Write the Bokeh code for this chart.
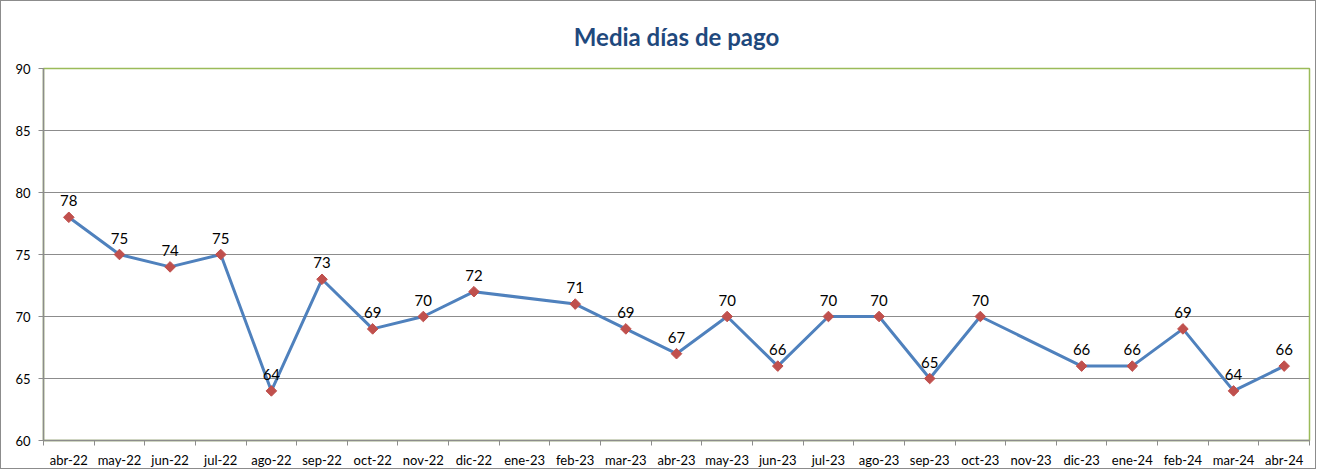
from math import pi
from bokeh.plotting import figure
from bokeh.models import ColumnDataSource, FixedTicker, LabelSet, Range1d
from bokeh.core.properties import value
from bokeh.embed import file_html
from bokeh.resources import INLINE

months = ["abr-22", "may-22", "jun-22", "jul-22", "ago-22", "sep-22", "oct-22", "nov-22",
          "dic-22", "ene-23", "feb-23", "mar-23", "abr-23", "may-23", "jun-23", "jul-23",
          "ago-23", "sep-23", "oct-23", "nov-23", "dic-23", "ene-24", "feb-24", "mar-24", "abr-24"]
dias = [78, 75, 74, 75, 64, 73, 69, 70, 72, None, 71, 69, 67, 70, 66, 70, 70, 65, 70, None,
        66, 66, 69, 64, 66]
y_ticks = [60, 65, 70, 75, 80, 85, 90]

xs = [i for i, v in enumerate(dias) if v is not None]
ys = [v for v in dias if v is not None]
src = ColumnDataSource(dict(x=xs, y=ys, lbl=[str(v) for v in ys]))

FONT = "Lato"

p = figure(width=1316, height=469, output_backend="svg", toolbar_location=None,
           x_range=Range1d(-0.5, len(months) - 0.5), y_range=Range1d(60, 90),
           min_border_left=42, min_border_right=8, min_border_top=10, min_border_bottom=4,
           styles={"border": "1px solid #8c8c8c"})

p.title.text = "Media días de pago"
p.title.align = "center"
p.title.offset = -9
p.title.text_font = FONT
p.title.text_font_size = "24px"
p.title.text_color = "#1F497D"
p.title.text_font_style = "bold"
p.title.standoff = 36

p.outline_line_color = "#9BBB59"
p.outline_line_width = 1.5

p.line("x", "y", source=src, line_color="#4F81BD", line_width=3)
p.scatter("x", "y", source=src, marker="square", angle=pi / 4, size=7.5,
          fill_color="#C0504D", line_color="#C0504D")
p.add_layout(LabelSet(x="x", y="y", text="lbl", source=src, text_align="center",
                      text_baseline="bottom", y_offset=11, text_font=value(FONT),
                      text_font_size="15px", text_color="#000000"))

# x axis
xa = p.xaxis[0]
xa.ticker = FixedTicker(ticks=list(range(len(months))),
                        minor_ticks=[i - 0.5 for i in range(len(months) + 1)])
xa.major_label_overrides = {i: m for i, m in enumerate(months)}
xa.major_tick_line_color = None
xa.minor_tick_line_color = "#8c8c8c"
xa.minor_tick_out = 5
xa.minor_tick_in = 0
xa.axis_line_color = "#8c8c8c"
xa.axis_line_width = 1.5
xa.major_label_text_font = FONT
xa.major_label_text_font_size = "13px"
xa.major_label_text_color = "#000000"
xa.major_label_standoff = 5

ya = p.yaxis[0]
ya.ticker = FixedTicker(ticks=y_ticks)
ya.major_tick_line_color = "#8c8c8c"
ya.major_tick_out = 5
ya.major_tick_in = 0
ya.minor_tick_line_color = None
ya.axis_line_color = "#8c8c8c"
ya.axis_line_width = 1.5
ya.major_label_text_font = FONT
ya.major_label_text_font_size = "13px"
ya.major_label_text_color = "#000000"
ya.major_label_standoff = 8

p.xgrid.grid_line_color = None
p.ygrid.grid_line_color = "#8c8c8c"
p.ygrid.grid_line_width = 1.2

open("out.html", "w").write(file_html(p, INLINE))
